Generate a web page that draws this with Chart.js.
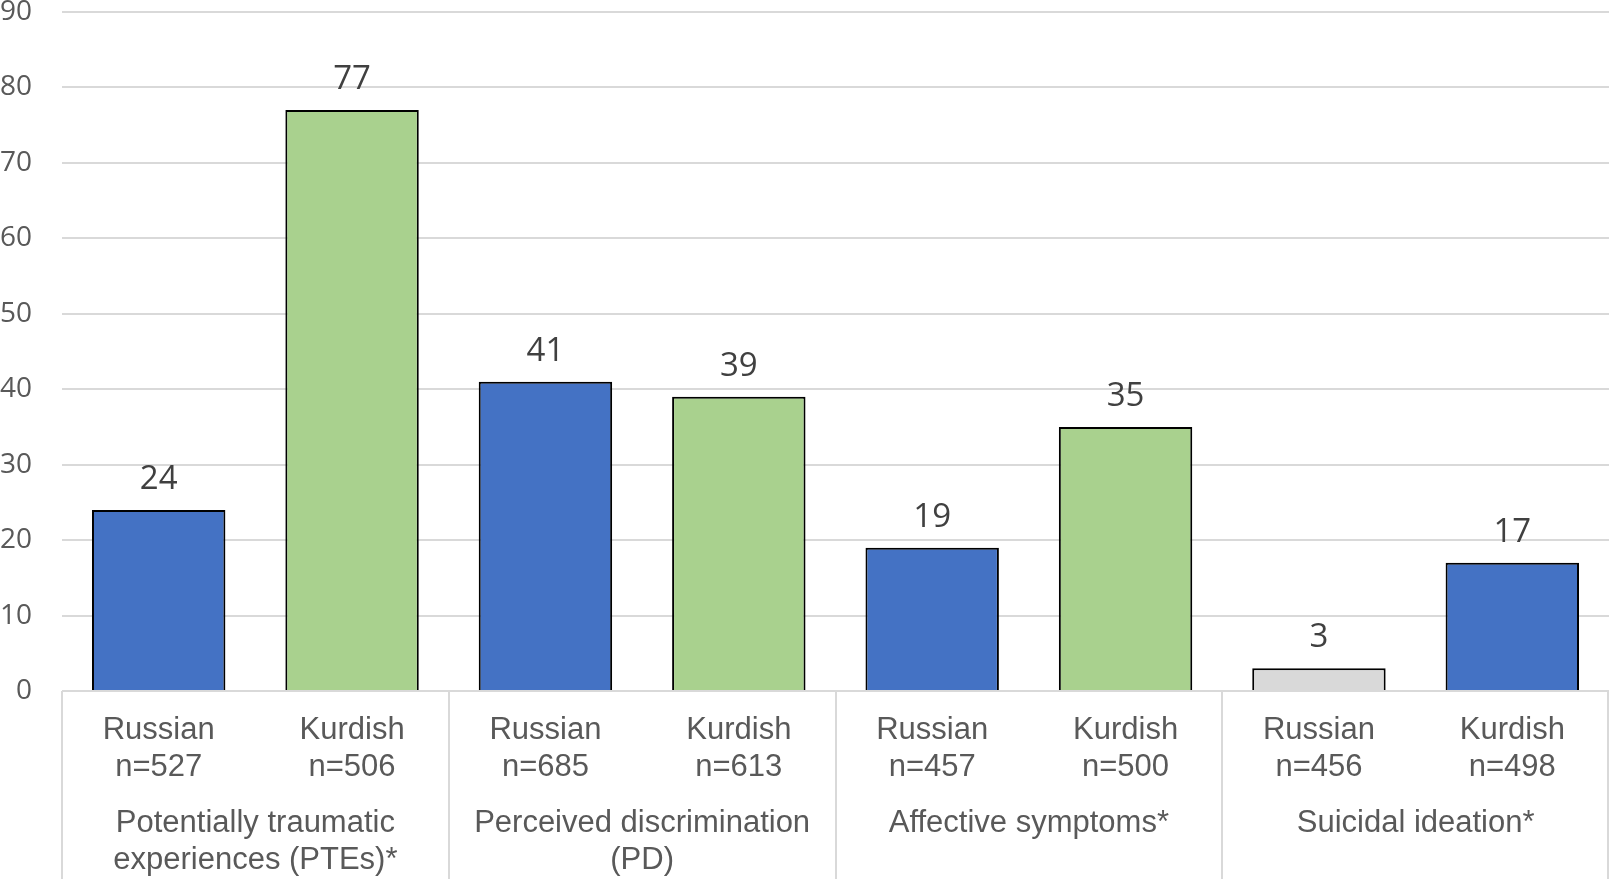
<!DOCTYPE html>
<html>
<head>
<meta charset="utf-8">
<script src="https://cdn.jsdelivr.net/npm/chart.js@4/dist/chart.umd.min.js"></script>
<style>
  html, body { margin:0; padding:0; background:#fff; }
  .wrap { width:1610px; height:879px; position:relative; }
</style>
</head>
<body>
<div class="wrap"><canvas id="chart"></canvas></div>
<script>
// dados do gráfico
const populations = ['Russian','Kurdish','Russian','Kurdish','Russian','Kurdish','Russian','Kurdish'];
const sampleSizes = ['n=527','n=506','n=685','n=613','n=457','n=500','n=456','n=498'];
const groupLabels = [
  ['Potentially traumatic','experiences (PTEs)*'],
  ['Perceived discrimination','(PD)'],
  ['Affective symptoms*'],
  ['Suicidal ideation*']
];
const values    = [24, 77, 41, 39, 19, 35, 3, 17];
const barColors = ['#4472C4','#A9D18E','#4472C4','#A9D18E','#4472C4','#A9D18E','#D9D9D9','#4472C4'];
const yMin = 0, yMax = 90, yStep = 10;

const GRID = '#D9D9D9';
const TXT  = '#595959';
const SANS = '"Liberation Sans", Arial, sans-serif';
const NUMF = '"Open Sans", "Noto Sans", sans-serif';

// rótulos de dados + caixas das categorias agrupadas
const extras = {
  id:'extras',
  afterDraw(chart){
    const { ctx, chartArea } = chart;
    const x = chart.scales.x;
    const meta = chart.getDatasetMeta(0);

    // valores acima das barras
    ctx.save();
    ctx.fillStyle = '#404040';
    ctx.font = `33px ${NUMF}`;
    ctx.textAlign = 'center';
    ctx.textBaseline = 'alphabetic';
    meta.data.forEach((bar, i) => {
      ctx.fillText(String(values[i]), bar.x, bar.y - 21);
    });
    ctx.restore();

    // separadores verticais dos grupos
    const groupW = (x.right - x.left) / groupLabels.length;
    ctx.save();
    ctx.strokeStyle = GRID;
    ctx.lineWidth = 2;
    for (let k = 0; k <= groupLabels.length; k++){
      const px = Math.round(x.left + k * groupW) + (k === groupLabels.length ? -1 : 0);
      ctx.beginPath();
      ctx.moveTo(px, chartArea.bottom);
      ctx.lineTo(px, chart.height);
      ctx.stroke();
    }
    ctx.restore();

    // nomes dos grupos
    ctx.save();
    ctx.fillStyle = TXT;
    ctx.font = `31px ${SANS}`;
    ctx.textAlign = 'center';
    ctx.textBaseline = 'middle';
    groupLabels.forEach((lines, g) => {
      const cx = x.left + (g + 0.5) * groupW;
      lines.forEach((t, j) => ctx.fillText(t, cx, 823 + j * 37));
    });
    ctx.restore();
  }
};

new Chart(document.getElementById('chart'), {
  type:'bar',
  data:{
    labels: populations.map((p, i) => [p, sampleSizes[i]]),
    datasets:[{
      data: values,
      backgroundColor: barColors,
      borderColor: '#000',
      borderWidth: 2,
      borderSkipped: 'bottom',
      barPercentage: 0.69,
      categoryPercentage: 1.0
    }]
  },
  options:{
    responsive:true,
    maintainAspectRatio:false,
    animation:false,
    layout:{ padding:{ top:12, right:1, left:0, bottom:0 } },
    plugins:{ legend:{ display:false }, tooltip:{ enabled:false } },
    scales:{
      x:{
        grid:{ display:false, drawTicks:false },
        border:{ display:false },
        ticks:{
          color: TXT,
          font:{ family: SANS, size:31, lineHeight:1.2 },
          padding:21,
          maxRotation:0, autoSkip:false
        },
        afterFit(scale){ scale.height = 188; scale.paddingLeft = 0; scale.paddingRight = 0; }
      },
      y:{
        min:yMin, max:yMax,
        grid:{ color:GRID, lineWidth:2, drawTicks:false },
        border:{ display:false },
        ticks:{
          stepSize:yStep,
          color: TXT,
          font:{ family: NUMF, size:28 },
          padding:30
        },
        afterFit(scale){ scale.width = 62; scale.paddingTop = 0; scale.paddingBottom = 0; }
      }
    }
  },
  plugins:[extras]
});
</script>
</body>
</html>
